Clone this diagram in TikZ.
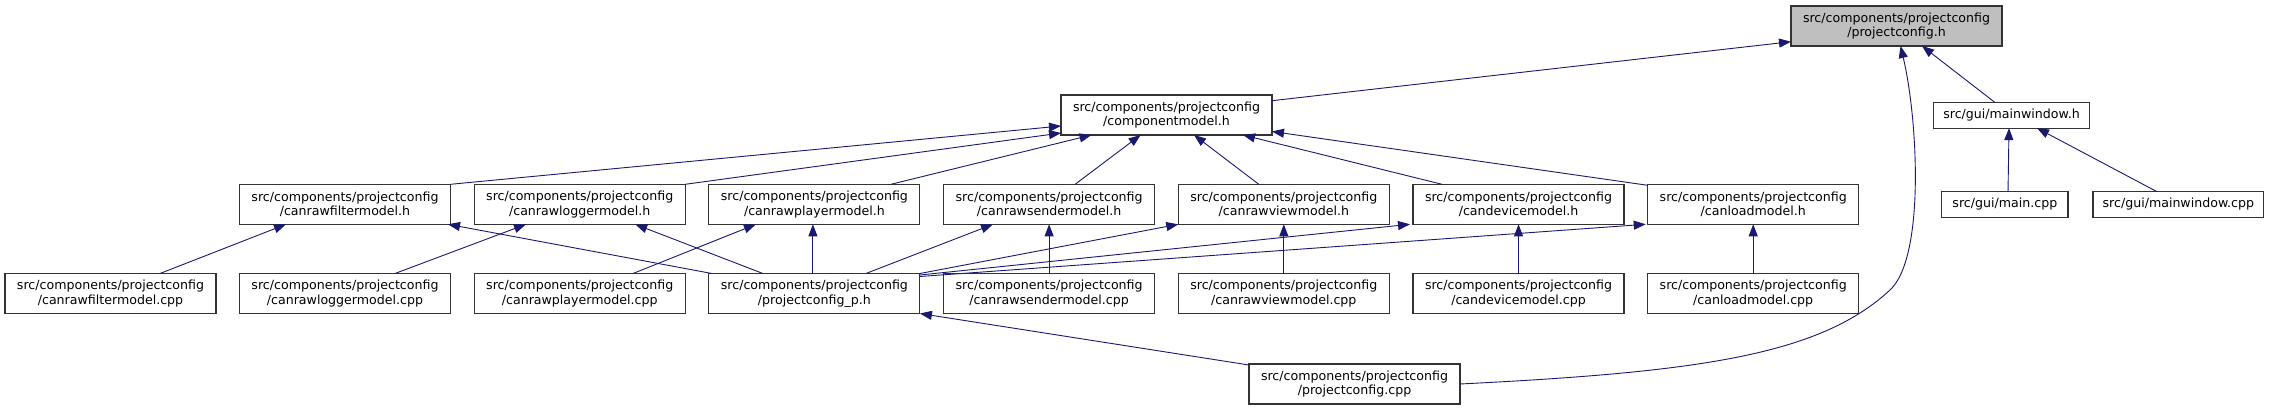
\documentclass[tikz,border=0pt]{standalone}
\usepackage{fontspec}
\setmainfont{DejaVu Sans}
\usetikzlibrary{arrows.meta,calc}
\definecolor{edgeblue}{RGB}{25,25,112}
\definecolor{focusgray}{RGB}{191,191,191}
\begin{document}
\begin{tikzpicture}[x=1pt,y=-1pt,
  box/.style={draw=black!80,line width=1.1pt,fill=white,anchor=north west,inner sep=0pt,outer sep=0pt,align=center,font=\fontsize{12.6}{14.8}\selectfont,minimum height=40pt,minimum width=211pt},
  onebox/.style={box,minimum height=25.6pt},
  focus/.style={box,fill=focusgray},
  dep/.style={draw=edgeblue,line width=0.9pt,-{Triangle[length=12pt,width=9pt]}}]
\useasboundingbox[fill=white] (0,0) rectangle (2269,409);
% nodes
\node[focus] (pch) at (1791,6) {src/components/projectconfig\\/projectconfig.h};
\node[box] (comp) at (1061,95) {src/components/projectconfig\\/componentmodel.h};
\node[onebox,minimum width=156pt] (mwh) at (1933.5,102.5) {src/gui/mainwindow.h};
\node[box] (crfh) at (239.5,184.3) {src/components/projectconfig\\/canrawfiltermodel.h};
\node[box] (crlh) at (474.2,184.3) {src/components/projectconfig\\/canrawloggermodel.h};
\node[box] (crph) at (708.9,184.3) {src/components/projectconfig\\/canrawplayermodel.h};
\node[box] (crsh) at (943.6,184.3) {src/components/projectconfig\\/canrawsendermodel.h};
\node[box] (crvh) at (1178.3,184.3) {src/components/projectconfig\\/canrawviewmodel.h};
\node[box] (cdh) at (1413,184.3) {src/components/projectconfig\\/candevicemodel.h};
\node[box] (clh) at (1647.7,184.3) {src/components/projectconfig\\/canloadmodel.h};
\node[onebox,minimum width=126.4pt] (mainc) at (1941.6,191.7) {src/gui/main.cpp};
\node[onebox,minimum width=170.6pt] (mwc) at (2093,191.7) {src/gui/mainwindow.cpp};
\node[box] (crfc) at (5,273.5) {src/components/projectconfig\\/canrawfiltermodel.cpp};
\node[box] (crlc) at (239.5,273.5) {src/components/projectconfig\\/canrawloggermodel.cpp};
\node[box] (crpc) at (474.2,273.5) {src/components/projectconfig\\/canrawplayermodel.cpp};
\node[box] (pcph) at (708.9,273.5) {src/components/projectconfig\\/projectconfig\_p.h};
\node[box] (crsc) at (943.6,273.5) {src/components/projectconfig\\/canrawsendermodel.cpp};
\node[box] (crvc) at (1178.3,273.5) {src/components/projectconfig\\/canrawviewmodel.cpp};
\node[box] (cdc) at (1413,273.5) {src/components/projectconfig\\/candevicemodel.cpp};
\node[box] (clc) at (1647.7,273.5) {src/components/projectconfig\\/canloadmodel.cpp};
\node[box] (pccpp) at (1249,364) {src/components/projectconfig\\/projectconfig.cpp};
% edges
\draw[dep] ($(comp.north east)+(0,5.7)$) -- ($(pch.south west)+(0,-4.3)$);
\draw[dep] ($(mwh.north west)+(61.5,0)$) -- ($(pch.south west)+(131,0)$);
\draw[dep] (pccpp.east) .. controls (1700,372) and (1820,355) .. (1890,290) .. controls (1925,257.5) and (1918,120) .. ($(pch.south)+(4,0)$);
\draw[dep] ($(mainc.north west)+(66.4,0)$) -- ($(mwh.south west)+(75.5,0)$);
\draw[dep] ($(mwc.north west)+(64,0)$) -- ($(mwh.south west)+(103.5,0)$);
\draw[dep] (crfh.north east) -- ($(comp.north west)+(0,31)$);
\draw[dep] (crlh.north east) -- ($(comp.north west)+(0,38)$);
\draw[dep] ($(crph.north west)+(182,0)$) -- ($(comp.south west)+(30.5,0)$);
\draw[dep] ($(crsh.north west)+(131.5,0)$) -- ($(comp.south west)+(79.6,0)$);
\draw[dep] ($(crvh.north west)+(80.5,0)$) -- ($(comp.south west)+(133,0)$);
\draw[dep] ($(cdh.north west)+(29,0)$) -- ($(comp.south west)+(182,0)$);
\draw[dep] ($(clh.north west)+(0,1)$) -- ($(comp.north east)+(0,36.5)$);
\draw[dep] ($(crfc.north west)+(155,0)$) -- ($(crfh.south west)+(46.5,0)$);
\draw[dep] ($(crlc.north west)+(155.5,0)$) -- ($(crlh.south west)+(51.8,0)$);
\draw[dep] ($(crpc.north west)+(158.8,0)$) -- ($(crph.south west)+(47,0)$);
\draw[dep] ($(pcph.north west)+(3,0)$) -- ($(crfh.south east)+(-2.5,0)$);
\draw[dep] ($(pcph.north west)+(54,0)$) -- ($(crlh.south west)+(161,0)$);
\draw[dep] ($(pcph.north west)+(104,0)$) -- ($(crph.south west)+(104,0)$);
\draw[dep] ($(pcph.north west)+(157,0)$) -- ($(crsh.south west)+(49.4,0)$);
\draw[dep] (crsc.north) -- (crsh.south);
\draw[dep] (pcph.north east) -- (crvh.south west);
\draw[dep] (crvc.north) -- (crvh.south);
\draw[dep] ($(pcph.north east)+(0,1.5)$) -- ($(cdh.south west)+(-3,0)$);
\draw[dep] ($(pcph.north east)+(0,3)$) -- ($(clh.south west)+(-2,0)$);
\draw[dep] (cdc.north) -- (cdh.south);
\draw[dep] (clc.north) -- (clh.south);
\draw[dep] ($(pccpp.north west)+(0,1)$) -- (pcph.south east);
\end{tikzpicture}
\end{document}
